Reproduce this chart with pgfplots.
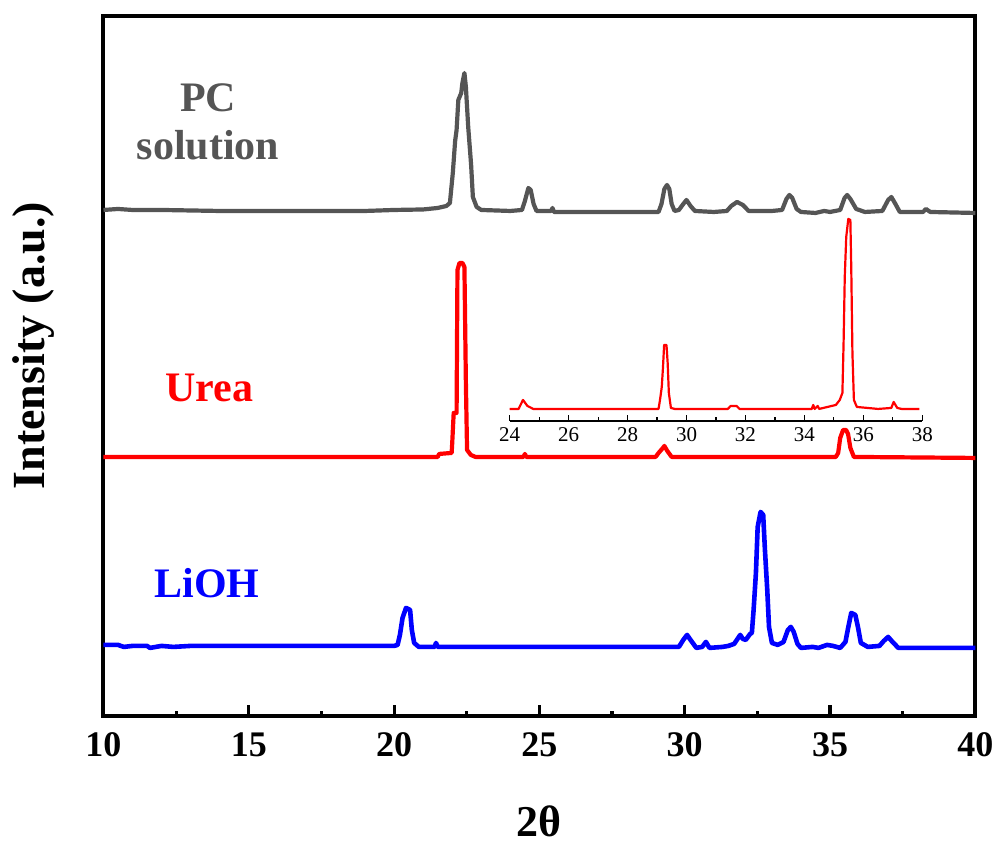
\documentclass[border=0pt]{standalone}
\usepackage{fontspec}
\setmainfont{Liberation Serif}
\usepackage{pgfplots}
\pgfplotsset{compat=1.18}
\definecolor{pcgray}{RGB}{85,85,85}
\definecolor{ured}{RGB}{255,0,0}
\definecolor{lblue}{RGB}{0,0,255}
\begin{document}
\begin{tikzpicture}
\path (-51.75pt,-62.5pt) rectangle (448.25pt,358pt);
\begin{axis}[
  at={(0pt,0pt)}, anchor=south west,
  scale only axis, width=436pt, height=350pt,
  xmin=10, xmax=40, ymin=0, ymax=700,
  xtick={10,15,...,40}, minor x tick num=1,
  ytick=\empty,
  tick align=inside, xtick pos=left,
  axis line style={line width=2pt},
  tick style={line width=1.6pt, black},
  major tick length=5.5pt, minor tick length=2.5pt,
  /pgf/number format/assume math mode=true,
  tick label style={font=\fontsize{18}{20}\selectfont\bfseries},
  xticklabel style={yshift=-5pt},
  xlabel={2θ},
  xlabel style={font=\fontsize{22}{24}\selectfont\bfseries, at={(axis description cs:0.5,-0.151)}, anchor=center},
  ylabel={Intensity (a.u.)},
  ylabel style={font=\fontsize{23}{25}\selectfont\bfseries, at={(axis description cs:-0.0808,0.529)}, anchor=center},
  clip=false,
]
\addplot[pcgray, line width=2.1pt, line join=round] coordinates {
(10,506) (10.5,507) (11,506) (12,506) (13,505.5) (14,505) (15,505) (16,505) (17,505) (18,505) (19,505) (20,506) (21,506.5) (21.5,508) (21.8,510) (21.92,513) (22.02,543) (22.1,575) (22.15,586) (22.21,616) (22.31,623) (22.35,633) (22.42,643) (22.47,629) (22.55,589) (22.65,551) (22.71,519) (22.84,509) (23,506) (24,505) (24.4,506) (24.5,515) (24.62,528) (24.7,526) (24.8,512) (24.9,505) (25.4,505) (25.45,508) (25.5,504) (27,504) (29.1,504) (29.2,512) (29.3,527) (29.39,531) (29.47,527) (29.55,512) (29.65,505) (29.8,506) (29.95,512) (30.06,516) (30.2,510) (30.35,505) (31,504) (31.45,505) (31.6,510) (31.8,514) (32,511) (32.2,505) (33,505) (33.35,506) (33.5,517) (33.6,521) (33.7,518) (33.85,507) (34.0,504) (34.5,503) (34.8,505) (35,504) (35.35,506) (35.5,518) (35.59,521) (35.7,517) (35.9,507) (36.2,504) (36.8,505) (37.0,516) (37.11,519) (37.25,512) (37.4,504) (38.2,504) (38.3,507) (38.45,504) (40,503)
};
\addplot[ured, line width=2.1pt, line join=round] coordinates {
(10,259) (12,259) (14,259) (16,259) (18,259) (20,259) (21.5,259) (21.55,262) (21.98,263) (22.0,273) (22.05,303) (22.15,303) (22.18,446) (22.25,453) (22.35,453) (22.42,449) (22.47,333) (22.51,266) (22.64,261) (22.8,259) (24.45,259) (24.5,262) (24.55,259) (29.0,259) (29.1,263) (29.25,268) (29.3,270) (29.4,265) (29.55,259) (35.2,259) (35.28,263) (35.35,278) (35.45,286) (35.55,286) (35.62,282) (35.7,268) (35.82,259) (40,258)
};
\addplot[lblue, line width=2.3pt, line join=round] coordinates {
(10,71) (10.5,71) (10.7,69) (11,70) (11.5,70) (11.6,68) (12,70) (12.4,69) (13,70) (14,70) (16,70) (18,70) (20.0,70) (20.12,71) (20.20,81) (20.29,98) (20.41,108) (20.55,106) (20.61,86) (20.69,73) (20.85,69) (21.4,69) (21.44,73) (21.5,69) (25,69) (29.8,69) (29.95,76) (30.08,81) (30.2,76) (30.4,68) (30.6,69) (30.73,74) (30.85,68) (31.3,69) (31.5,70) (31.7,72) (31.91,81) (32.0,77) (32.1,76) (32.25,82) (32.31,83) (32.37,106) (32.45,143) (32.51,189) (32.61,204) (32.70,201) (32.76,166) (32.84,126) (32.90,89) (33.0,73) (33.2,71) (33.4,74) (33.55,86) (33.65,89) (33.75,84) (33.88,72) (34.0,68) (34.4,69) (34.6,68) (34.9,71) (35.1,70) (35.35,68) (35.53,74) (35.63,89) (35.73,103) (35.87,101) (35.96,89) (36.06,73) (36.3,69) (36.7,70) (36.85,75) (37.0,79) (37.15,74) (37.35,68) (38,68) (40,68)
};
\node[pcgray, font=\fontsize{21}{24}\selectfont\bfseries, align=center] at (axis cs:13.6,594) {PC\\solution};
\node[ured, font=\fontsize{21}{23}\selectfont\bfseries] at (axis cs:13.64,328) {Urea};
\node[lblue, font=\fontsize{21}{23}\selectfont\bfseries] at (axis cs:13.56,133) {LiOH};
\end{axis}
\begin{axis}[
  at={(203.15pt,147.5pt)}, anchor=south west,
  scale only axis, width=206.3pt, height=105pt,
  xmin=24, xmax=38, ymin=0, ymax=210,
  axis x line*=bottom, axis y line=none,
  x axis line style={-, line width=0.8pt},
  xtick={24,26,...,38}, minor x tick num=1,
  tick align=inside,
  tick style={line width=0.6pt, black},
  major tick length=3pt, minor tick length=1.8pt,
  /pgf/number format/assume math mode=true,
  tick label style={font=\fontsize{10.5}{12}\selectfont},
  clip=false,
]
\addplot[ured, line width=1.1pt, line join=round] coordinates {
(24.0,12) (24.3,12) (24.45,21) (24.6,15) (24.8,12) (29.05,12) (29.10,21) (29.16,34) (29.20,53) (29.24,76) (29.32,76) (29.36,58) (29.40,28) (29.47,13) (29.6,12) (31.4,12) (31.5,15) (31.7,15) (31.8,12) (34.25,12) (34.3,16) (34.35,12) (34.45,15) (34.5,12) (35.07,16) (35.20,21) (35.29,28) (35.33,78) (35.37,144) (35.42,184) (35.49,202) (35.56,201) (35.59,154) (35.63,68) (35.68,21) (35.78,14) (36.5,12) (36.95,13) (37.03,19) (37.15,13) (37.3,12) (37.9,12)
};
\end{axis}
\end{tikzpicture}
\end{document}
